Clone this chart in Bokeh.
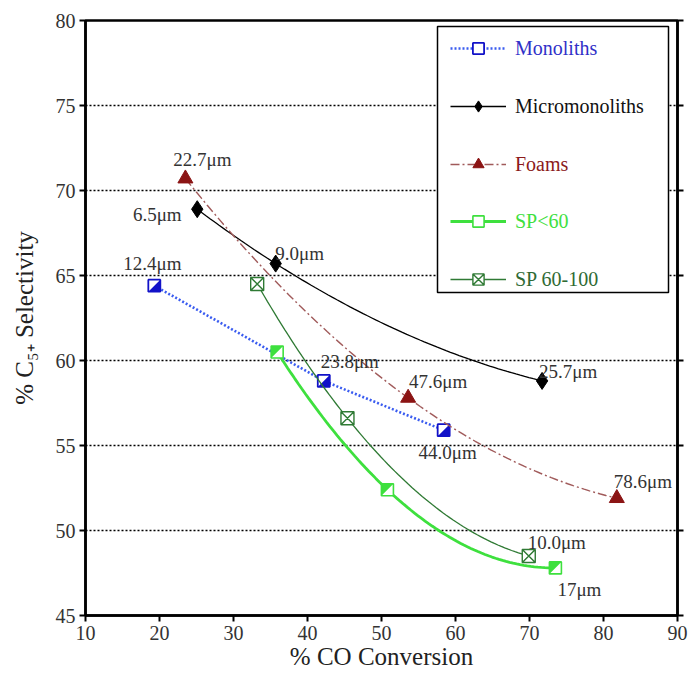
import numpy as np
from bokeh.plotting import figure
from bokeh.models import (Range1d, LinearAxis, FixedTicker, Legend, LegendItem,
                          BoxAnnotation, ColumnDataSource)
from bokeh.embed import file_html
from bokeh.resources import INLINE
from bokeh.core.properties import value

# ---------------- data ----------------
mono_x = [19.3, 42.2, 58.4]
mono_y = [64.4, 58.8, 55.9]
mono_lbl = ["12.4\u03bcm", "23.8\u03bcm", "44.0\u03bcm"]

micro_x = [25.1, 35.7, 71.7]
micro_y = [68.9, 65.7, 58.8]
micro_lbl = ["6.5\u03bcm", "9.0\u03bcm", "25.7\u03bcm"]

foam_x = [23.5, 53.6, 81.8]
foam_y = [70.7, 57.8, 51.9]
foam_lbl = ["22.7\u03bcm", "47.6\u03bcm", "78.6\u03bcm"]

sp60_x = [35.9, 50.8, 73.5]
sp60_y = [60.5, 52.4, 47.8]
sp60_lbl = ["", "", "17\u03bcm"]

sp100_x = [33.2, 45.4, 69.9]
sp100_y = [64.5, 56.6, 48.5]
sp100_lbl = ["", "", "10.0\u03bcm"]

series_names = ["Monoliths", "Micromonoliths", "Foams", "SP<60", "SP 60-100"]
x_ticks = [10, 20, 30, 40, 50, 60, 70, 80, 90]
y_ticks = [45, 50, 55, 60, 65, 70, 75, 80]
grid_levels = [50, 55, 60, 65, 70, 75]
x_title = "% CO Conversion"
y_title = "% C\u2085\u208a Selectivity"

# ---------------- styles ----------------
FONT = "Liberation Serif"
C_MONO_LINE = "#3a5cf0"
C_MONO = "#1212c8"
C_MICRO = "#000000"
C_FOAM = "#8b1414"
C_FOAM_LINE = "#a05a5a"
C_SP60 = "#3ee03e"
C_SP100 = "#2f7a34"

# label offsets in screen pixels (dx right, dy down)
mono_off = [(-2, -22), (26, -19), (4, 22)]
micro_off = [(-40, 5), (24, -10), (26, -9)]
foam_off = [(17, -19), (30, -16), (26, -17)]
sp60_off = [(0, 0), (0, 0), (24, 22)]
sp100_off = [(0, 0), (0, 0), (28, -14)]

p = figure(width=692, height=682, x_range=Range1d(10, 90), y_range=Range1d(45, 80),
           output_backend="svg", toolbar_location=None,
           min_border_left=85, min_border_right=15, min_border_top=20, min_border_bottom=67)
p.background_fill_color = "white"
p.border_fill_color = "white"
p.outline_line_color = "black"
p.outline_line_width = 2.5

p.xgrid.visible = False
p.ygrid.ticker = FixedTicker(ticks=grid_levels)
p.ygrid.grid_line_color = "black"
p.ygrid.grid_line_width = 1.6
p.ygrid.grid_line_dash = "2 2"

for ax in (p.xaxis[0], p.yaxis[0]):
    ax.axis_line_width = 2.5
    ax.major_tick_out = 6
    ax.major_tick_in = 0
    ax.major_tick_line_width = 2
    ax.minor_tick_line_color = None
    ax.major_label_text_font = FONT
    ax.major_label_text_font_size = "20px"
    ax.major_label_text_color = "#333333"
    ax.axis_label_text_font = FONT
    ax.axis_label_text_font_size = "25px"
    ax.axis_label_text_font_style = "normal"
    ax.axis_label_text_color = "#222222"
p.xaxis.ticker = FixedTicker(ticks=x_ticks)
p.yaxis.ticker = FixedTicker(ticks=y_ticks)
p.xaxis.axis_label = x_title
p.yaxis.axis_label = y_title
p.xaxis.axis_label_standoff = 0
p.yaxis.axis_label_standoff = 15
p.xaxis.major_label_standoff = 4
p.yaxis.major_label_standoff = 4

right = LinearAxis(ticker=FixedTicker(ticks=y_ticks), major_tick_out=6, major_tick_in=0,
                   major_tick_line_width=2, minor_tick_line_color=None,
                   axis_line_width=2.5,
                   major_label_overrides={t: "" for t in y_ticks})
p.add_layout(right, "right")


def smooth(xs, ys, n=80):
    c = np.polyfit(xs, ys, 2)
    xx = np.linspace(min(xs), max(xs), n)
    return xx, np.polyval(c, xx)


# half-marker geometry (data units per pixel)
HX = 6.0 * 80 / 592
HY = 6.0 * 35 / 595


def half_tri(xs, ys, corner):
    pxs, pys = [], []
    for x, y in zip(xs, ys):
        if corner == "lr":
            pxs.append([x - HX, x + HX, x + HX]); pys.append([y - HY, y - HY, y + HY])
        else:
            pxs.append([x - HX, x + HX, x - HX]); pys.append([y + HY, y + HY, y - HY])
    return pxs, pys


# Monoliths
l_mono = p.line(mono_x, mono_y, line_color=C_MONO_LINE, line_width=2.6, line_dash="2 2")
s_mono_bg = p.scatter(mono_x, mono_y, marker="square", size=12, fill_color="white", line_color=None)
mx, my = half_tri(mono_x, mono_y, "lr")
p.patches(mx, my, fill_color=C_MONO, line_color=None)
s_mono = p.scatter(mono_x, mono_y, marker="square", size=12, fill_color=None,
                   line_color=C_MONO, line_width=1.8)

# Micromonoliths
cx, cy = smooth(micro_x, micro_y)
l_micro = p.line(cx, cy, line_color=C_MICRO, line_width=1.3)
s_micro = p.scatter(micro_x, micro_y, marker="diamond", size=17, fill_color=C_MICRO, line_color=C_MICRO)

# Foams
fx, fy = smooth(foam_x, foam_y)
l_foam = p.line(fx, fy, line_color=C_FOAM_LINE, line_width=1.4, line_dash="9 3 2 3")
s_foam = p.scatter(foam_x, foam_y, marker="triangle", size=15, fill_color=C_FOAM, line_color=C_FOAM)

# SP<60
gx, gy = smooth(sp60_x, sp60_y)
l_sp60 = p.line(gx, gy, line_color=C_SP60, line_width=2.8)
s_sp60_bg = p.scatter(sp60_x, sp60_y, marker="square", size=12, fill_color="white", line_color=None)
hx2, hy2 = half_tri(sp60_x, sp60_y, "ul")
p.patches(hx2, hy2, fill_color=C_SP60, line_color=None)
s_sp60 = p.scatter(sp60_x, sp60_y, marker="square", size=12, fill_color=None,
                   line_color=C_SP60, line_width=1.6)

# SP 60-100
dx, dy = smooth(sp100_x, sp100_y)
l_sp100 = p.line(dx, dy, line_color=C_SP100, line_width=1.3)
s_sp100 = p.scatter(sp100_x, sp100_y, marker="square_x", size=13, fill_color="white",
                    line_color=C_SP100, line_width=1.4)

# point labels
lx, ly, lt, ox, oy = [], [], [], [], []
for xs, ys, ts, offs in [(mono_x, mono_y, mono_lbl, mono_off), (micro_x, micro_y, micro_lbl, micro_off),
                         (foam_x, foam_y, foam_lbl, foam_off), (sp60_x, sp60_y, sp60_lbl, sp60_off),
                         (sp100_x, sp100_y, sp100_lbl, sp100_off)]:
    for x, y, t, o in zip(xs, ys, ts, offs):
        if t:
            lx.append(x); ly.append(y); lt.append(t); ox.append(o[0]); oy.append(o[1])
src = ColumnDataSource(dict(x=lx, y=ly, t=lt, ox=ox, oy=oy))
p.text(x="x", y="y", text="t", x_offset="ox", y_offset="oy", source=src,
       text_font=value(FONT), text_font_size="19px", text_color="#333333",
       text_align="center", text_baseline="middle")

# legend box (frame-relative screen units)
box = BoxAnnotation(left=352, right=583, top=589, bottom=323,
                    left_units="screen", right_units="screen", top_units="screen", bottom_units="screen",
                    fill_color="white", fill_alpha=1.0, line_color="black", line_width=1.5, line_alpha=1.0)
p.add_layout(box)

legend_specs = [
    (series_names[0], [l_mono, s_mono_bg, s_mono], "#3030c8", 553),
    (series_names[1], [l_micro, s_micro], "#111111", 495),
    (series_names[2], [l_foam, s_foam], "#8b1a1a", 437),
    (series_names[3], [l_sp60, s_sp60_bg, s_sp60], "#3ee03e", 380),
    (series_names[4], [l_sp100, s_sp100], "#2f6a34", 322),
]
for name, rends, col, ypos in legend_specs:
    leg = Legend(items=[LegendItem(label=name, renderers=rends)], location=(365, ypos),
                 padding=0, margin=0, spacing=0, border_line_color=None,
                 background_fill_alpha=0, glyph_width=56, glyph_height=28, label_height=28,
                 label_standoff=9, label_text_font=FONT, label_text_font_size="20px",
                 label_text_color=col)
    p.add_layout(leg)

open("out.html", "w").write(file_html(p, INLINE))
